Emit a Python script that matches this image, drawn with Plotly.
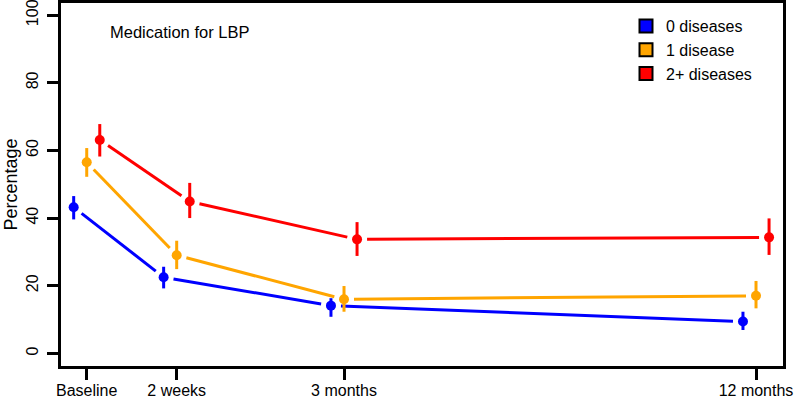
import math
import plotly.graph_objects as go

# ---- data ----
visits = ["Baseline", "2 weeks", "3 months", "12 months"]
visit_pos = [0.0, 1.0, 2.86, 7.44]          # axis position of each visit
groups = ["0 diseases", "1 disease", "2+ diseases"]
colors = ["#0000FF", "#FFA500", "#FF0000"]
dodge = [-0.145, 0.0, 0.145]

pct_0 = [43.2, 22.5, 14.1, 9.4]
upper_0 = [46.5, 25.6, 16.3, 12.3]
lower_0 = [39.6, 19.2, 10.8, 6.9]

pct_1 = [56.5, 29.0, 16.0, 17.0]
upper_1 = [60.7, 33.3, 19.9, 21.4]
lower_1 = [52.2, 24.9, 12.3, 13.3]

pct_2 = [63.1, 44.9, 33.7, 34.3]
upper_2 = [67.8, 50.4, 38.8, 39.9]
lower_2 = [58.2, 40.0, 28.8, 29.1]

pcts = [pct_0, pct_1, pct_2]
uppers = [upper_0, upper_1, upper_2]
lowers = [lower_0, lower_1, lower_2]

# ---- layout geometry ----
W, H = 796, 398
ML, MR, MT, MB = 61, 13, 3, 32
PW, PH = W - ML - MR, H - MT - MB
xr = [-0.286, 7.74]
yr = [-3.75, 103.6]
sx = PW / (xr[1] - xr[0])
sy = PH / (yr[1] - yr[0])
GAP = 10  # px gap between line ends and points (type="b" style)

fig = go.Figure()

for g, name in enumerate(groups):
    xs = [p + dodge[g] for p in visit_pos]
    ys = pcts[g]
    lx, ly = [], []
    for i in range(len(xs) - 1):
        dx = (xs[i + 1] - xs[i]) * sx
        dy = (ys[i + 1] - ys[i]) * sy
        d = math.hypot(dx, dy)
        ux, uy = dx / d, dy / d
        lx += [xs[i] + ux * GAP / sx, xs[i + 1] - ux * GAP / sx, None]
        ly += [ys[i] + uy * GAP / sy, ys[i + 1] - uy * GAP / sy, None]
    fig.add_trace(go.Scatter(x=lx, y=ly, mode="lines",
                             line=dict(color=colors[g], width=3),
                             showlegend=False, hoverinfo="skip"))

for g, name in enumerate(groups):
    xs = [p + dodge[g] for p in visit_pos]
    ys = pcts[g]
    fig.add_trace(go.Scatter(
        x=xs, y=ys, mode="markers",
        marker=dict(color=colors[g], size=10),
        error_y=dict(type="data", symmetric=False,
                     array=[u - v for u, v in zip(uppers[g], ys)],
                     arrayminus=[v - l for v, l in zip(ys, lowers[g])],
                     color=colors[g], thickness=3, width=0),
        showlegend=False, name=name))

for g, name in enumerate(groups):
    fig.add_trace(go.Scatter(
        x=[None], y=[None], mode="markers", name=name,
        marker=dict(symbol="square", size=13, color=colors[g],
                    line=dict(color="black", width=2))))

fig.add_annotation(text="Medication for LBP", xref="paper", yref="paper",
                   x=(108 - ML) / PW, y=1 - (32 - MT) / PH,
                   xanchor="left", yanchor="middle", showarrow=False,
                   font=dict(size=16.5, color="black"))

axis_common = dict(showline=True, mirror=True, linecolor="black", linewidth=2.5,
                   ticks="outside", ticklen=11, tickwidth=2.5, tickcolor="black",
                   showgrid=False, zeroline=False, automargin=False,
                   ticklabeloverflow="allow",
                   tickfont=dict(size=16, color="black"))

fig.update_layout(
    width=W, height=H,
    margin=dict(l=ML, r=MR, t=MT, b=MB, autoexpand=False),
    paper_bgcolor="white", plot_bgcolor="white",
    font=dict(family="Liberation Sans, Arial, sans-serif", color="black"),
    xaxis=dict(range=xr, tickvals=visit_pos, ticktext=visits,
               ticklabelstandoff=-3, **axis_common),
    yaxis=dict(range=yr, tickvals=[0, 20, 40, 60, 80, 100], tickangle=-90,
               ticklabelstandoff=3,
               title=dict(text="Percentage", font=dict(size=18), standoff=2),
               **axis_common),
    legend=dict(x=(626 - ML) / PW, y=1 - (9 - MT) / PH, xanchor="left", yanchor="top",
                font=dict(size=16), bgcolor="rgba(0,0,0,0)"),
)

fig.write_html("out.html", config={"displayModeBar": False},
               post_script="document.body.style.margin='0';")
